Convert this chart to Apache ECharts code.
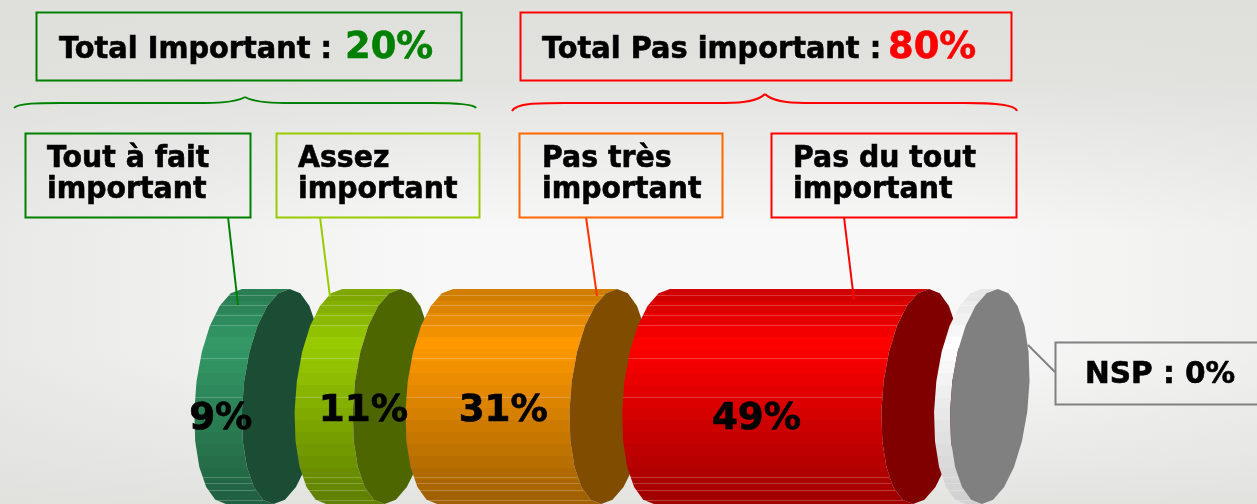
<!DOCTYPE html>
<html><head><meta charset="utf-8">
<style>html,body{margin:0;padding:0;background:#fff}#c{width:1257px;height:504px}</style>
<script src="https://cdn.jsdelivr.net/npm/echarts@6/dist/echarts.min.js"></script>
</head><body><div id="c"></div>
<script>
const categories = ['Tout à fait important','Assez important','Pas très important','Pas du tout important','NSP'];
const values = [9,11,31,49,0];
const valueLabels = ['9%','11%','31%','49%',''];
const totalLabels = ['Total Important :','Total Pas important :'];
const totalValues = ['20%','80%'];
const calloutLines = ['Tout à fait\nimportant','Assez\nimportant','Pas très\nimportant','Pas du tout\nimportant'];
const nspLabel = 'NSP : 0%';

const bodyColors = [[51,153,102],[153,204,0],[255,153,0],[255,0,0],[255,255,255]];
const labelOffsets = [[-45,23],[-8,15],[-32,15],[-43,23]];
const GAP = 52.7, MINW = 16, A = 39, SKEW = 8, FONT = '"DejaVu Sans"', SX = 0.945;

function rgb(c,f){return 'rgb('+c.map(v=>Math.round(v*f)).join(',')+')';}
function shade(p){ return p<0.26 ? 0.8+0.2*(p/0.26) : 1-0.38*((p-0.26)/0.74); }
function ellipse(tx,cy,b,n){
  const pts=[],cx=tx-SKEW;
  for(let i=0;i<n;i++){const t=i/n*2*Math.PI-Math.PI/2;
    pts.push([cx+A*Math.cos(t)-SKEW*Math.sin(t),cy+b*Math.sin(t)]);}
  return pts;
}
function leftX(tx,cy,b,y){const s=(y-cy)/b;return tx-SKEW-A*Math.sqrt(Math.max(0,1-s*s))-SKEW*s;}
const seamYs=[295,305,315,325,358,397,477,483,490,500];

function renderItem(params,api){
  const i=api.value(2), n=22;
  const x0=api.coord([api.value(0),1]), x1=api.coord([api.value(1),0]);
  const top=x0[1], bot=x1[1], cy=(top+bot)/2, b=(bot-top)/2;
  const lx=x0[0]+GAP*i; const rx=Math.max(x1[0]+GAP*i,lx+MINW);
  const col=bodyColors[i];
  const L=ellipse(lx,cy,b,n), R=ellipse(rx,cy,b,n);
  const body=[];
  for(let k=0;k<=n/2;k++) body.push(L[(n-k)%n]);
  for(let k=n/2;k>=0;k--) body.push(R[(n-k)%n]);
  const bands=18, stops=[];
  for(let k=0;k<bands;k++){const s=shade((k+.5)/bands);const c=rgb(col,i===4?0.7+0.3*s*s:s);
    stops.push({offset:k/bands,color:c},{offset:(k+1)/bands,color:c});}
  const children=[{type:'polygon',shape:{points:body},
    style:{fill:new echarts.graphic.LinearGradient(0,top,0,bot,stops,true)}}];
  seamYs.forEach(y=>{
    children.push({type:'line',shape:{x1:leftX(lx,cy,b,y),y1:y+.5,x2:leftX(rx,cy,b,y),y2:y+.5},
      style:{stroke:'rgba(255,255,255,0.22)',lineWidth:1}});
  });
  children.push({type:'polygon',shape:{points:R},style:{fill:rgb(col,0.5)}});
  return {type:'group',children};
}
function renderLabels(params,api){
  const i=api.value(2);
  if(!valueLabels[i]) return {type:'group',children:[]};
  const a=api.coord([api.value(0),1]), c=api.coord([api.value(1),0]);
  const mx=(a[0]+c[0])/2+GAP*i+labelOffsets[i][0], my=(a[1]+c[1])/2+labelOffsets[i][1];
  return {type:'text',x:mx,y:my,scaleX:0.98,style:{text:valueLabels[i],fill:'#000',stroke:'#000',lineWidth:.7,
    font:'bold 38px '+FONT,align:'center',verticalAlign:'middle'}};
}

function txt(s,x,y,size,fill,sx,extra){
  return {type:'text',x,y,scaleX:sx||SX,z:20,style:Object.assign({text:s,fill:fill||'#000',stroke:fill||'#000',lineWidth:.6,
    font:'bold '+size+'px '+FONT,align:'left',verticalAlign:'middle'},extra||{})};
}
function box(x,y,w,h,c){return {type:'rect',z:15,shape:{x:x+.5,y:y+.5,width:w,height:h},style:{fill:'transparent',stroke:c,lineWidth:2}};}
function lead(a,b,c,d,col,w){return {type:'line',z:14,shape:{x1:a,y1:b,x2:c,y2:d},style:{stroke:col,lineWidth:w||2}};}
function bez(x1,y1,cx1,cy1,cx2,cy2,x2,y2,col){return {type:'bezierCurve',z:15,shape:{x1,y1,cpx1:cx1,cpy1:cy1,cpx2:cx2,cpy2:cy2,x2,y2},style:{fill:'none',stroke:col,lineWidth:2}};}
function brace(xl,yl,xa,tip,ty,xb,xr,yr,ym,col){
  return [bez(xl,yl,xl+4,ym,xl+26,ym,xa,ym,col), lead(xa,ym,tip-40,ym,col),
          bez(tip-40,ym,tip-20,ym,tip-7,ym-2,tip,ty,col), bez(tip,ty,tip+7,ym-2,tip+20,ym,tip+40,ym,col),
          lead(tip+40,ym,xb,ym,col), bez(xb,ym,xr-26,ym,xr-2,ym+1,xr,yr,col)];
}

const cum=[];values.reduce((s,v)=>{cum.push(s);return s+v;},0);
const GREEN='#008000',LIME='#99cc00',ORANGE='#ff6600',RED='#ff0000',GRAY='#808080';
const graphics=[
 {type:'rect',z:-2,silent:true,shape:{x:0,y:0,width:1257,height:504},style:{fill:new echarts.graphic.LinearGradient(0,0,0,1,[
   {offset:0,color:'#dfe0dc'},{offset:.16,color:'#e2e3df'},{offset:.46,color:'#f8f8f8'},{offset:.7,color:'#f8f8f8'},{offset:.9,color:'#ebece9'},{offset:1,color:'#e3e4e0'}])}},
 {type:'rect',z:-1,silent:true,shape:{x:0,y:0,width:1257,height:504},style:{fill:new echarts.graphic.LinearGradient(0,0,1,0,[
   {offset:0,color:'rgba(223,224,220,0.6)'},{offset:.35,color:'rgba(223,224,220,0)'},{offset:.75,color:'rgba(223,224,220,0)'},{offset:1,color:'rgba(223,224,220,0.35)'}])}},
 box(36,12,425,68,GREEN), box(520,12,491,68,RED),
 txt(totalLabels[0],59,50,30,'#000',.96), txt(totalValues[0],345,48,38,GREEN,.97),
 txt(totalLabels[1],542,50,30,'#000',.96), txt(totalValues[1],888,48,38,RED,.97),
 ...brace(14,108,60,245,97,430,476,108,103,GREEN),
 ...brace(512,111,565,765,94,965,1017,111,103,RED),
 box(25,133,225,84,GREEN), box(276,133,203,84,LIME), box(519,133,203,84,ORANGE), box(771,133,245,84,RED),
 txt(calloutLines[0],47,175,30,'#000',SX,{lineHeight:31}),
 txt(calloutLines[1],298,175,30,'#000',SX,{lineHeight:31}),
 txt(calloutLines[2],542,175,30,'#000',SX,{lineHeight:31}),
 txt(calloutLines[3],793,175,30,'#000',SX,{lineHeight:31}),
 box(1055,342,204,62,GRAY),
 txt(nspLabel,1085,375,30,'#000',.985),
 lead(228,217,238,305,GREEN), lead(320,217,330,297,LIME), lead(586,217,597,296,'#ff3300'), lead(844,217,854,300,RED), lead(1028,345,1055,372,GRAY)
];

const chart=echarts.init(document.getElementById('c'),null,{renderer:'canvas'});
const rows=values.map((v,i)=>({name:categories[i],value:[cum[i],cum[i]+v,i]}));
chart.setOption({
  animation:false,
  grid:{left:242,width:529,top:289,height:216},
  xAxis:{type:'value',min:0,max:100,show:false},
  yAxis:{type:'value',min:0,max:1,show:false},
  graphic:graphics,
  series:[
    {type:'custom',clip:false,z:5,renderItem,encode:{x:[0,1]},data:rows},
    {type:'custom',clip:false,z:30,renderItem:renderLabels,encode:{x:[0,1]},data:rows}
  ]
});
</script></body></html>
